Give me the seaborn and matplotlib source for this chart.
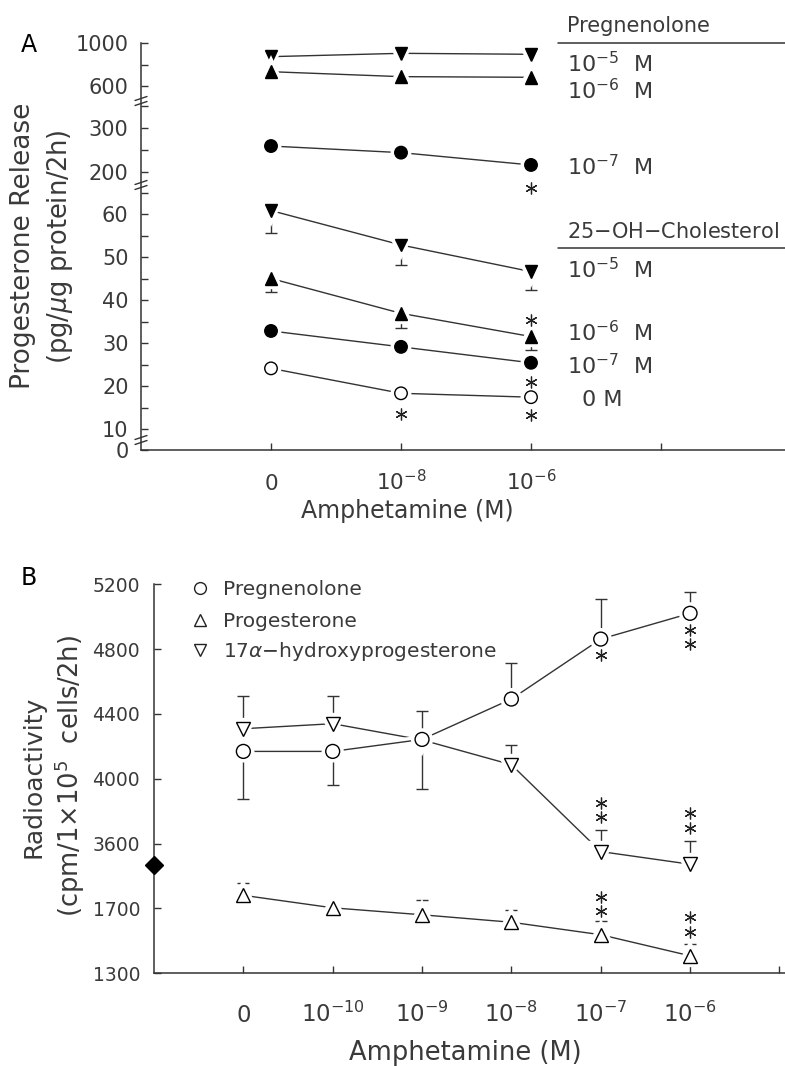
import numpy as np
import matplotlib
matplotlib.use("Agg")
import matplotlib.pyplot as plt
import matplotlib.patheffects as pe
from matplotlib.transforms import ScaledTranslation
import seaborn as sns

# ---------------- Panel A data ----------------
a_x = [0, 1, 2]
a_x_labels = ["0", "$10^{-8}$", "$10^{-6}$", ""]
preg_1e5 = [873, 904, 895]
preg_1e6 = [733, 687, 681]
preg_1e7 = [259, 244, 216]
oh_1e5 = [60.8, 52.8, 46.6]
oh_1e5_err = [5.3, 4.6, 4.3]
oh_1e6 = [45.0, 36.9, 31.5]
oh_1e6_err = [3.1, 3.4, 3.1]
oh_1e7 = [32.8, 29.1, 25.4]
oh_0 = [24.1, 18.3, 17.4]
a_yticks = [0, 10, 20, 30, 40, 50, 60, 200, 300, 600, 1000]
a_yminor = [15, 25, 35, 45, 55, 65, 250, 350, 800]

# ---------------- Panel B data ----------------
b_x = [0, 1, 2, 3, 4, 5]
b_x_labels = ["0", "$10^{-10}$", "$10^{-9}$", "$10^{-8}$", "$10^{-7}$", "$10^{-6}$", ""]
b_preg = [4169, 4169, 4243, 4492, 4862, 5021]
b_preg_err_lo = [293, 210, 305, 0, 0, 0]
b_preg_err_hi = [0, 0, 175, 223, 245, 129]
b_prog = [1781, 1704, 1661, 1615, 1538, 1408]
b_prog_err_hi = [74, 0, 91, 74, 83, 72]
b_ohp = [4309, 4340, 4240, 4087, 3551, 3473]
b_ohp_err_hi = [202, 171, 0, 119, 135, 143]
b_yticks = [1300, 1700, 3600, 4000, 4400, 4800, 5200]

sns.set_theme(style="ticks")
plt.rcParams["font.family"] = ["DejaVu Sans"]
plt.rcParams["mathtext.fontset"] = "dejavusans"

TXT = "#3a3a3a"
LC = "#333333"
W, H = 785, 1066
fig = plt.figure(figsize=(W / 100, H / 100), dpi=100)


def broken_scale(kv, kp):
    kv = np.asarray(kv, float)
    kp = np.asarray(kp, float)

    def _map(v, a, b):
        v = np.asarray(v, float)
        out = np.interp(v, a, b)
        s0 = (b[1] - b[0]) / (a[1] - a[0])
        s1 = (b[-1] - b[-2]) / (a[-1] - a[-2])
        out = np.where(v < a[0], b[0] + (v - a[0]) * s0, out)
        out = np.where(v > a[-1], b[-1] + (v - a[-1]) * s1, out)
        return out

    return (lambda v: _map(v, kv, kp)), (lambda p: _map(p, kp, kv))


def px_axes(l, t, r, b):
    return [l / W, 1 - b / H, (r - l) / W, (b - t) / H]


halo = [pe.Stroke(linewidth=6, foreground="white"), pe.Normal()]


def series(ax, x, y, marker, filled, ms=9):
    sns.lineplot(x=x, y=y, ax=ax, color=LC, linewidth=1.0, errorbar=None,
                 marker=marker, markersize=ms,
                 markerfacecolor="black" if filled else "white",
                 markeredgecolor="black", markeredgewidth=1.0,
                 path_effects=halo, zorder=3)


def errs(ax, x, y, lo, hi):
    for xi, yi, l, h in zip(x, y, lo, hi):
        if l > 0 or h > 0:
            ax.errorbar([xi], [yi], yerr=[[l], [h]], fmt="none", ecolor=LC,
                        elinewidth=1.0, capsize=4, capthick=1.0, zorder=2)


def stars(ax, xv, yv, offsets_px):
    for d in offsets_px:
        tr = ax.transData + ScaledTranslation(0, d / 100, fig.dpi_scale_trans)
        ax.plot([xv], [yv], marker=(6, 2, 0), markersize=8.5, markeredgewidth=0.9,
                color="#222222", transform=tr, clip_on=False, zorder=4)


def style_axes(ax, xsize, ysize):
    for s in ["top", "right"]:
        ax.spines[s].set_visible(False)
    for s in ["left", "bottom"]:
        ax.spines[s].set_color(LC)
        ax.spines[s].set_linewidth(1.1)
    ax.tick_params(which="both", direction="in", length=5, width=1.0,
                   color=LC, labelcolor=TXT)
    ax.tick_params(axis="x", labelsize=xsize)
    ax.tick_params(axis="y", labelsize=ysize)


# ================= Panel A =================
axA = fig.add_axes(px_axes(141, 43, 785, 450))
fA, iA = broken_scale([0, 10, 65, 200, 350, 600, 1000],
                      [0, 21, 257.5, 278, 344, 364, 407])
axA.set_yscale("function", functions=(fA, iA))

errs(axA, a_x, oh_1e5, oh_1e5_err, [0, 0, 0])
errs(axA, a_x, oh_1e6, oh_1e6_err, [0, 0, 0])
series(axA, a_x, preg_1e5, "v", True)
series(axA, a_x, preg_1e6, "^", True)
series(axA, a_x, preg_1e7, "o", True)
series(axA, a_x, oh_1e5, "v", True)
series(axA, a_x, oh_1e6, "^", True)
series(axA, a_x, oh_1e7, "o", True)
series(axA, a_x, oh_0, "o", False)

stars(axA, a_x[2], preg_1e7[2], [-23])
stars(axA, a_x[2], oh_1e6[2], [17])
stars(axA, a_x[2], oh_1e7[2], [-19])
stars(axA, a_x[1], oh_0[1], [-21])
stars(axA, a_x[2], oh_0[2], [-18])

axA.set_xlim(-1, (785 - 271) / 130)
axA.set_ylim(0, 1000)
axA.set_xticks([0, 1, 2, 3])
axA.set_xticklabels(a_x_labels)
axA.set_yticks(a_yticks)
axA.set_yticklabels([str(v) for v in a_yticks])
axA.set_yticks(a_yminor, minor=True)
style_axes(axA, 15.5, 15)
axA.tick_params(axis="y", which="both", pad=9)
axA.tick_params(axis="x", pad=29)
plt.setp(axA.get_xticklabels(), va="baseline")
axA.set_xlabel("Amphetamine (M)", fontsize=17, color=TXT)
axA.xaxis.set_label_coords((407 - 141) / 644, (450 - 499) / 407)

# axis break marks on A
for ypx in [101, 185, 440]:
    yf = (450 - ypx) / 407
    for dy in [-2.5, 2.5]:
        axA.plot([-6 / 644, 6 / 644], [yf + (dy - 2) / 407, yf + (dy + 2) / 407],
                 transform=axA.transAxes, color=LC, lw=1.0, clip_on=False)

# ================= Panel B =================
axB = fig.add_axes(px_axes(154, 584.3, 785, 973.3))
fB, iB = broken_scale([1300, 1700, 1948, 3450, 3600, 5200],
                      [0, 1, 1.62, 1.625, 2, 6])
axB.set_yscale("function", functions=(fB, iB))

errs(axB, b_x, b_preg, b_preg_err_lo, b_preg_err_hi)
errs(axB, b_x, b_prog, [0] * 6, b_prog_err_hi)
errs(axB, b_x, b_ohp, [0] * 6, b_ohp_err_hi)
series(axB, b_x, b_ohp, "v", False, ms=10)
series(axB, b_x, b_preg, "o", False, ms=10)
series(axB, b_x, b_prog, "^", False, ms=10)

stars(axB, b_x[4], b_preg[4], [-16])
stars(axB, b_x[5], b_preg[5], [-17, -31])
stars(axB, b_x[4], b_ohp[4], [35, 49])
stars(axB, b_x[5], b_ohp[5], [36, 51])
stars(axB, b_x[4], b_prog[4], [24, 38])
stars(axB, b_x[5], b_prog[5], [24, 39])

axB.set_xlim(-1, (785 - 243) / 89.4)
axB.set_ylim(1300, 5200)
axB.set_xticks(range(7))
axB.set_xticklabels(b_x_labels)
axB.set_yticks(b_yticks)
axB.set_yticklabels([str(v) for v in b_yticks])
style_axes(axB, 16.5, 13.5)
axB.tick_params(axis="y", pad=10)
axB.tick_params(axis="x", pad=35)
plt.setp(axB.get_xticklabels(), va="baseline")
axB.set_xlabel("Amphetamine (M)", fontsize=18.5, color=TXT)
axB.xaxis.set_label_coords((465 - 154) / 631, (973.3 - 1040) / 389)

# axis break diamond on B
axB.plot([0], [(973.3 - 865) / 389], transform=axB.transAxes, marker="D",
         markersize=9.5, color="black", clip_on=False, zorder=6)

# legend B
for m, lab, ym, yb in [("o", "Pregnenolone", 588.3, 595),
                       ("^", "Progesterone", 620, 626.7),
                       ("v", r"17$\alpha$$-$hydroxyprogesterone", 650, 656.7)]:
    axB.plot([200 / W], [1 - ym / H], transform=fig.transFigure, marker=m,
             markersize=8.5, markerfacecolor="white", markeredgecolor="#222222",
             markeredgewidth=1.0, clip_on=False)
    fig.text(222.7 / W, 1 - yb / H, lab, fontsize=14.5, color=TXT, va="baseline")

# ================= texts =================
fig.text(29 / W, 1 - 45 / H, "A", fontsize=17, color="black", ha="center", va="center")
fig.text(29 / W, 1 - 578 / H, "B", fontsize=17, color="black", ha="center", va="center")

fig.text(23 / W, 1 - 246 / H, "Progesterone Release", rotation=90, fontsize=19,
         color=TXT, ha="center", va="center")
fig.text(60 / W, 1 - 247 / H, r"(pg/$\mu$g protein/2h)", rotation=90, fontsize=18.5,
         color=TXT, ha="center", va="center")
fig.text(34 / W, 1 - 777 / H, "Radioactivity", rotation=90, fontsize=18,
         color=TXT, ha="center", va="center")
fig.text(70 / W, 1 - 776 / H, r"(cpm/1$\times$10$^{5}$  cells/2h)", rotation=90,
         fontsize=18.5, color=TXT, ha="center", va="center")

# panel A right-hand labels
right_labels = [("Pregnenolone", 567, 31.7, 15),
                ("10$^{-5}$  M", 567, 72, 16), ("10$^{-6}$  M", 567, 99, 16),
                ("10$^{-7}$  M", 567, 175, 16),
                ("25$-$OH$-$Cholesterol", 567, 237.7, 15),
                ("10$^{-5}$  M", 567, 278, 16), ("10$^{-6}$  M", 567, 341.7, 16),
                ("10$^{-7}$  M", 567, 374, 16), ("0 M", 582, 406, 16)]
for lab, xp, yp, fs in right_labels:
    fig.text(xp / W, 1 - yp / H, lab, fontsize=fs, color=TXT, va="baseline")
for yl in [42.5, 248]:
    fig.add_artist(plt.Line2D([558 / W, 1.0], [1 - yl / H, 1 - yl / H],
                              transform=fig.transFigure, color=LC, lw=1.1))

fig.savefig("out.png", dpi=100)
